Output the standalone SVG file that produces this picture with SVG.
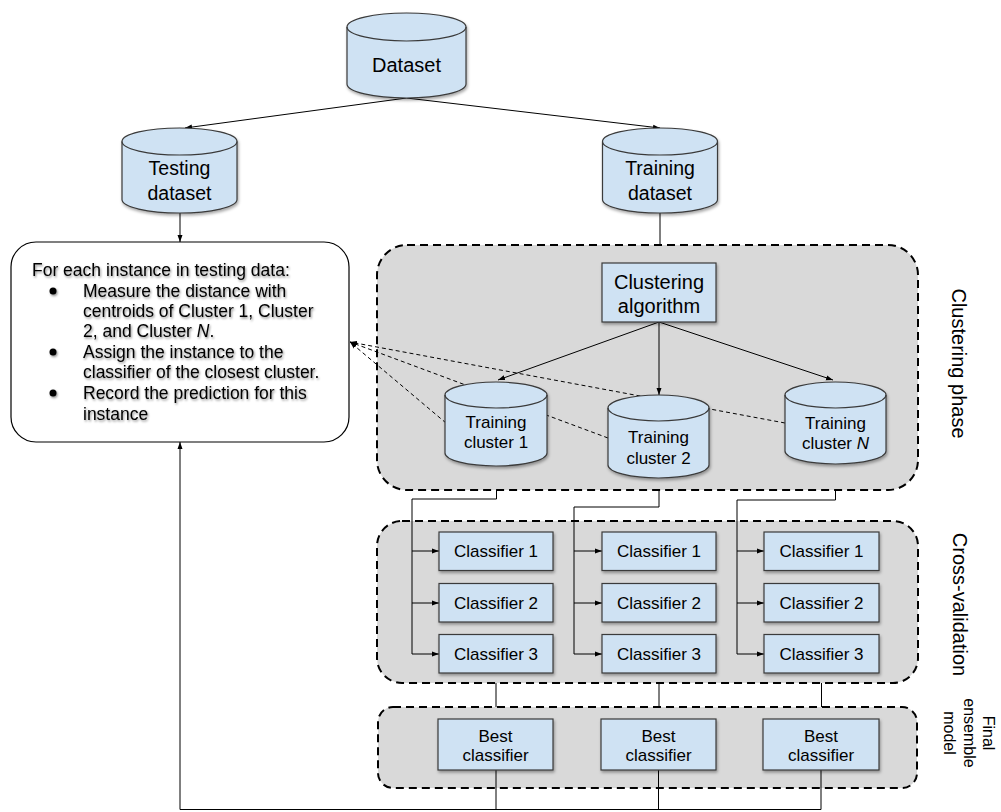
<svg xmlns="http://www.w3.org/2000/svg" width="1001" height="812" viewBox="0 0 1001 812">
<defs>
<style>
.t{font-family:"Liberation Sans",Arial,Helvetica,sans-serif;fill:#000}
.m{text-anchor:middle}
.node{fill:#cfe2f3;stroke:#3a3a3a;stroke-width:1.2}
.inner{fill:none;stroke:#3a3a3a;stroke-width:1.2}
.phase{fill:#d9d9d9;stroke:#000;stroke-width:2;stroke-dasharray:8,5}
.c{fill:none;stroke:#000;stroke-width:1}
.d{fill:none;stroke:#000;stroke-width:1;stroke-dasharray:4,3}
.s17{font-size:17px}
.s20{font-size:20px}
</style>
<filter id="sh" x="-10%" y="-10%" width="130%" height="140%"><feDropShadow dx="1" dy="2" stdDeviation="1.5" flood-color="#000" flood-opacity="0.35"/></filter>
<filter id="ts" x="-5%" y="-20%" width="115%" height="150%"><feDropShadow dx="1" dy="1.5" stdDeviation="1.2" flood-color="#000" flood-opacity="0.45"/></filter>
<marker id="a" markerWidth="8" markerHeight="6" refX="7" refY="3" orient="auto" markerUnits="userSpaceOnUse"><path d="M0,0.5 L7,3 L0,5.5z" fill="#000"/></marker>
</defs>
<rect width="1001" height="812" fill="#fff"/>

<g id="phases">
<g id="clustering-phase">
<rect class="phase" x="377" y="245" width="541" height="245" rx="30" ry="30"/>
<text class="t s20 m" transform="translate(959,363.5) rotate(90)" y="7">Clustering phase</text>
</g>
<g id="cross-validation">
<rect class="phase" x="377" y="521" width="541" height="162" rx="25" ry="25"/>
<text class="t s20 m" transform="translate(960,604.5) rotate(90)" y="7">Cross-validation</text>
</g>
<g id="final-ensemble">
<rect class="phase" x="378" y="707" width="539" height="81" rx="15" ry="15"/>
<text class="t m" font-size="16" transform="translate(969,733) rotate(90)"><tspan x="0" y="-14">Final</tspan><tspan x="0" y="5.5">ensemble</tspan><tspan x="0" y="25">model</tspan></text>
</g>
</g>

<g id="connectors">
<path class="c" d="M406.5,98 L185,128" marker-end="url(#a)"/>
<path class="c" d="M406.5,98 L660,128" marker-end="url(#a)"/>
<path class="c" d="M180,213 V242" marker-end="url(#a)"/>
<path class="c" d="M660,213 V245"/>
<path class="c" d="M659,322 L498,380" marker-end="url(#a)"/>
<path class="c" d="M659,322 V395" marker-end="url(#a)"/>
<path class="c" d="M659,322 L833,380" marker-end="url(#a)"/>
<path class="d" d="M608,438 L350,342" marker-end="url(#a)"/>
<path class="d" d="M785,423 L350,342" marker-end="url(#a)"/>
<path class="d" d="M446,423 L350,342" marker-end="url(#a)"/>
<path class="c" d="M496.5,490 V499 H412 V654 H439" marker-end="url(#a)"/>
<path class="c" d="M412,551 H439" marker-end="url(#a)"/>
<path class="c" d="M412,603 H439" marker-end="url(#a)"/>
<path class="c" d="M659,490 V507 H574 V654 H602" marker-end="url(#a)"/>
<path class="c" d="M574,551 H602" marker-end="url(#a)"/>
<path class="c" d="M574,603 H602" marker-end="url(#a)"/>
<path class="c" d="M835.5,490 V500 H737 V654 H764" marker-end="url(#a)"/>
<path class="c" d="M737,551 H764" marker-end="url(#a)"/>
<path class="c" d="M737,603 H764" marker-end="url(#a)"/>
<path class="c" d="M496,683 V707"/>
<path class="c" d="M659,683 V707"/>
<path class="c" d="M821.5,683 V707"/>
<path class="c" d="M496,770 V809.5"/>
<path class="c" d="M658.5,770 V809.5"/>
<path class="c" stroke-width="1.5" d="M821,770 V809.5 H180 V442" marker-end="url(#a)"/>
</g>

<g id="dataset">
<g filter="url(#sh)"><path class="node" d="M347,27 A59.5,14 0 0 1 466,27 L466,84 A59.5,14 0 0 1 347,84 Z"/></g>
<path class="inner" d="M347,27 A59.5,14 0 0 0 466,27"/>
<text class="t s20 m" x="406.5" y="72">Dataset</text>
</g>
<g id="testing-dataset">
<g filter="url(#sh)"><path class="node" d="M122,141.5 A57.5,13.5 0 0 1 237,141.5 L237,199.5 A57.5,13.5 0 0 1 122,199.5 Z"/></g>
<path class="inner" d="M122,141.5 A57.5,13.5 0 0 0 237,141.5"/>
<text class="t m" font-size="19.5" x="179.5"><tspan x="179.5" y="175">Testing</tspan><tspan x="179.5" y="200">dataset</tspan></text>
</g>
<g id="training-dataset">
<g filter="url(#sh)"><path class="node" d="M602.5,141.5 A57.5,13.5 0 0 1 717.5,141.5 L717.5,199.5 A57.5,13.5 0 0 1 602.5,199.5 Z"/></g>
<path class="inner" d="M602.5,141.5 A57.5,13.5 0 0 0 717.5,141.5"/>
<text class="t m" font-size="19.5"><tspan x="660" y="175">Training</tspan><tspan x="660" y="200">dataset</tspan></text>
</g>

<g id="test-procedure">
<rect x="11" y="242" width="338" height="200" rx="25" ry="25" fill="#fff" stroke="#000" stroke-width="1.2"/>
<g filter="url(#ts)">
<text class="t" font-size="17.5">
<tspan x="32" y="275.5">For each instance in testing data:</tspan>
<tspan x="83" y="296.5">Measure the distance with</tspan>
<tspan x="83" y="317">centroids of Cluster 1, Cluster</tspan>
<tspan x="83" y="337">2, and Cluster <tspan font-style="italic">N</tspan>.</tspan>
<tspan x="83" y="357.5">Assign the instance to the</tspan>
<tspan x="83" y="378">classifier of the closest cluster.</tspan>
<tspan x="83" y="398.5">Record the prediction for this</tspan>
<tspan x="83" y="419.5">instance</tspan>
</text>
<circle cx="53" cy="291" r="3.5" fill="#000"/>
<circle cx="53" cy="352" r="3.5" fill="#000"/>
<circle cx="53" cy="393" r="3.5" fill="#000"/>
</g>
</g>

<g id="clustering-algorithm">
<rect class="node" filter="url(#sh)" x="602" y="263" width="114" height="59"/>
<text class="t s20 m"><tspan x="659" y="289">Clustering</tspan><tspan x="659" y="313">algorithm</tspan></text>
</g>

<g id="training-cluster-1">
<g filter="url(#sh)"><path class="node" d="M445,395 A51,13 0 0 1 547,395 L547,453 A51,13 0 0 1 445,453 Z"/></g>
<path class="inner" d="M445,395 A51,13 0 0 0 547,395"/>
<text class="t s17 m"><tspan x="496" y="428">Training</tspan><tspan x="496" y="448">cluster 1</tspan></text>
</g>
<g id="training-cluster-2">
<g filter="url(#sh)"><path class="node" d="M608,408 A50.5,13 0 0 1 709,408 L709,465 A50.5,13 0 0 1 608,465 Z"/></g>
<path class="inner" d="M608,408 A50.5,13 0 0 0 709,408"/>
<text class="t s17 m"><tspan x="658.5" y="443">Training</tspan><tspan x="658.5" y="464">cluster 2</tspan></text>
</g>
<g id="training-cluster-n">
<g filter="url(#sh)"><path class="node" d="M785,395 A50.5,13 0 0 1 886,395 L886,451 A50.5,13 0 0 1 785,451 Z"/></g>
<path class="inner" d="M785,395 A50.5,13 0 0 0 886,395"/>
<text class="t s17 m"><tspan x="835.5" y="429">Training</tspan><tspan x="835.5" y="449">cluster <tspan font-style="italic">N</tspan></tspan></text>
</g>

<g id="classifiers-1">
<rect class="node" filter="url(#sh)" x="439" y="532" width="114" height="38.5"/>
<text class="t s17 m" x="496" y="557">Classifier 1</text>
<rect class="node" filter="url(#sh)" x="439" y="583.5" width="114" height="38.5"/>
<text class="t s17 m" x="496" y="609">Classifier 2</text>
<rect class="node" filter="url(#sh)" x="439" y="634.5" width="114" height="38.5"/>
<text class="t s17 m" x="496" y="660">Classifier 3</text>
</g>
<g id="classifiers-2">
<rect class="node" filter="url(#sh)" x="602" y="532" width="114" height="38.5"/>
<text class="t s17 m" x="659" y="557">Classifier 1</text>
<rect class="node" filter="url(#sh)" x="602" y="583.5" width="114" height="38.5"/>
<text class="t s17 m" x="659" y="609">Classifier 2</text>
<rect class="node" filter="url(#sh)" x="602" y="634.5" width="114" height="38.5"/>
<text class="t s17 m" x="659" y="660">Classifier 3</text>
</g>
<g id="classifiers-n">
<rect class="node" filter="url(#sh)" x="764" y="532" width="115" height="38.5"/>
<text class="t s17 m" x="821.5" y="557">Classifier 1</text>
<rect class="node" filter="url(#sh)" x="764" y="583.5" width="115" height="38.5"/>
<text class="t s17 m" x="821.5" y="609">Classifier 2</text>
<rect class="node" filter="url(#sh)" x="764" y="634.5" width="115" height="38.5"/>
<text class="t s17 m" x="821.5" y="660">Classifier 3</text>
</g>

<g id="best-1">
<rect class="node" filter="url(#sh)" x="438" y="719" width="115" height="51"/>
<text class="t s17 m"><tspan x="495.5" y="742">Best</tspan><tspan x="495.5" y="761">classifier</tspan></text>
</g>
<g id="best-2">
<rect class="node" filter="url(#sh)" x="601" y="719" width="115" height="51"/>
<text class="t s17 m"><tspan x="658.5" y="742">Best</tspan><tspan x="658.5" y="761">classifier</tspan></text>
</g>
<g id="best-n">
<rect class="node" filter="url(#sh)" x="763" y="719" width="116" height="51"/>
<text class="t s17 m"><tspan x="821" y="742">Best</tspan><tspan x="821" y="761">classifier</tspan></text>
</g>
</svg>
